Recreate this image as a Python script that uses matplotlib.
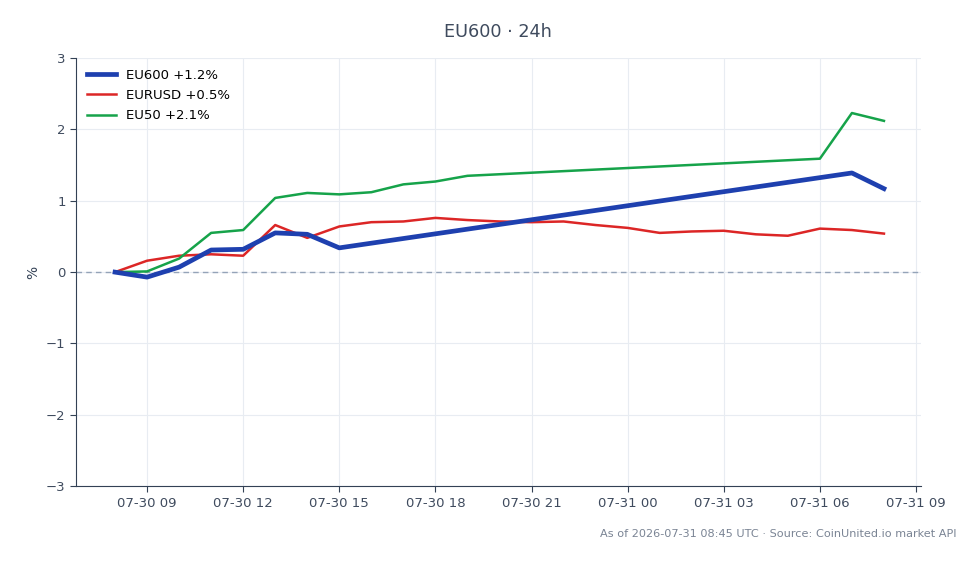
import numpy as np
import pandas as pd
import matplotlib.pyplot as plt
import matplotlib.dates as mdates

# hourly readings (% change since 07-30 08:00)
eu600_times = ["2026-07-30 08:00", "2026-07-30 09:00", "2026-07-30 10:00", "2026-07-30 11:00",
               "2026-07-30 12:00", "2026-07-30 13:00", "2026-07-30 14:00", "2026-07-30 15:00",
               "2026-07-31 07:00", "2026-07-31 08:00"]
eu600_vals = [0.0, -0.07, 0.07, 0.31, 0.32, 0.55, 0.53, 0.34, 1.39, 1.17]

eurusd_times = pd.date_range("2026-07-30 08:00", "2026-07-31 08:00", freq="h")
eurusd_vals = [0.0, 0.16, 0.23, 0.25, 0.23, 0.66, 0.48, 0.64, 0.70, 0.71,
               0.76, 0.73, 0.71, 0.70, 0.71, 0.66, 0.62, 0.55, 0.57, 0.58,
               0.53, 0.51, 0.61, 0.59, 0.54]

eu50_times = ["2026-07-30 08:00", "2026-07-30 09:00", "2026-07-30 10:00", "2026-07-30 11:00",
              "2026-07-30 12:00", "2026-07-30 13:00", "2026-07-30 14:00", "2026-07-30 15:00",
              "2026-07-30 16:00", "2026-07-30 17:00", "2026-07-30 18:00", "2026-07-30 19:00",
              "2026-07-31 06:00", "2026-07-31 07:00", "2026-07-31 08:00"]
eu50_vals = [0.0, 0.01, 0.19, 0.55, 0.59, 1.04, 1.11, 1.09, 1.12, 1.23, 1.27, 1.35,
             1.59, 2.23, 2.12]

labels = ["EU600 +1.2%", "EURUSD +0.5%", "EU50 +2.1%"]

slate = "#334155"

fig = plt.figure(figsize=(9.8, 5.64), dpi=100)
ax = fig.add_axes([0.0776, 0.138, 0.862, 0.759])

ax.plot(pd.to_datetime(eu600_times), eu600_vals, color="#1e40af", lw=3.4,
        label=labels[0], zorder=4, solid_joinstyle="round")
ax.plot(eurusd_times, eurusd_vals, color="#dc2626", lw=1.8, label=labels[1], zorder=3)
ax.plot(pd.to_datetime(eu50_times), eu50_vals, color="#16a34a", lw=1.8, label=labels[2], zorder=3)

ax.axhline(0, color="#94a3b8", lw=1, ls=(0, (4, 3)), zorder=2)

ax.set_xlim(pd.Timestamp("2026-07-30 06:47"), pd.Timestamp("2026-07-31 09:09"))
ax.set_ylim(-3, 3)
ax.set_yticks([-3, -2, -1, 0, 1, 2, 3])
ax.set_yticklabels(["\u22123", "\u22122", "\u22121", "0", "1", "2", "3"])
ax.xaxis.set_major_locator(mdates.HourLocator(byhour=[0, 3, 6, 9, 12, 15, 18, 21]))
ax.xaxis.set_major_formatter(mdates.DateFormatter("%m-%d %H"))

ax.grid(True, color="#e8ecf2", lw=0.8)
ax.set_axisbelow(True)
for s in ["top", "right"]:
    ax.spines[s].set_visible(False)
for s in ["left", "bottom"]:
    ax.spines[s].set_color(slate)
ax.tick_params(colors=slate, labelsize=9.5, length=4)
for t in ax.get_xticklabels() + ax.get_yticklabels():
    t.set_color("#3f4b5e")

ax.set_ylabel("%", color=slate, fontsize=10)
ax.set_title("EU600 \u00b7 24h", color="#3f4b5e", fontsize=12.7, pad=15)

ax.legend(loc="upper left", frameon=False, fontsize=9.5, handlelength=2.2,
          borderaxespad=0.4, labelspacing=0.55)

fig.text(0.976, 0.054, "As of 2026-07-31 08:45 UTC \u00b7 Source: CoinUnited.io market API",
         ha="right", va="center", color="#7a8494", fontsize=8.15)

fig.savefig("out.png", dpi=100)
